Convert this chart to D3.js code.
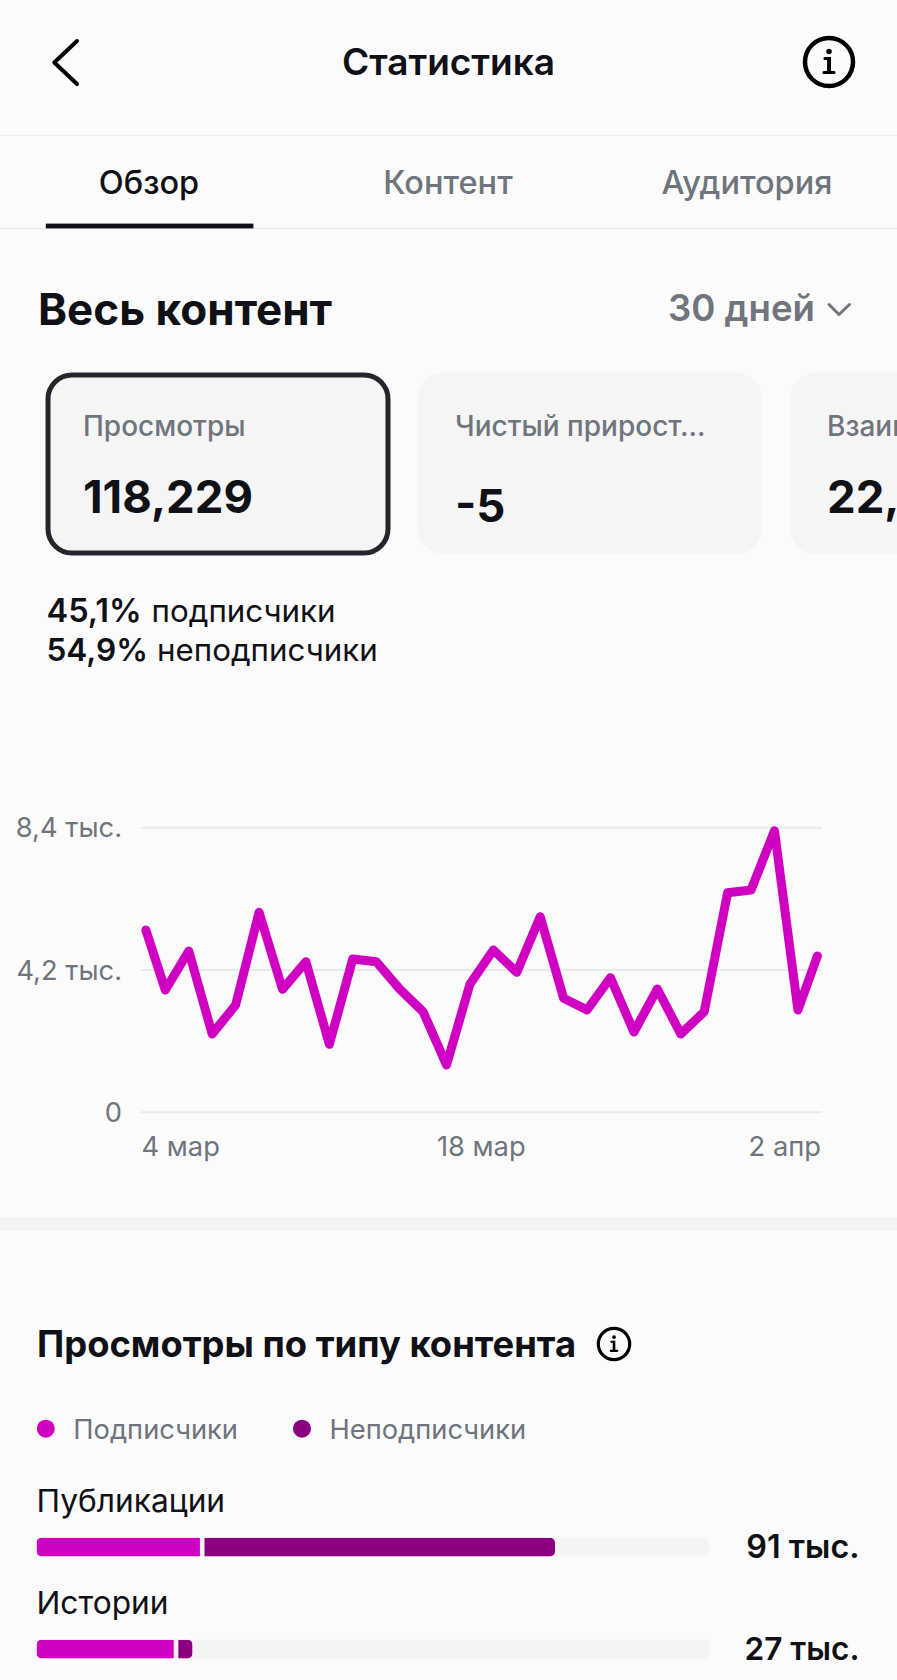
<!DOCTYPE html>
<html lang="ru"><head><meta charset="utf-8">
<script src="https://cdn.jsdelivr.net/npm/d3@7/dist/d3.min.js"></script>
<style>
html,body{margin:0;padding:0;background:#fbfbfb;overflow:hidden}
svg{display:block;font-family:Inter,"Noto Sans",sans-serif}
</style></head><body><div id="c"></div>
<script>
// ---- data ----
const viewsByDay = [5380,3610,4760,2311,3167,5902,3630,4446,2007,4525,4446,3639,2970,1397,3777,4790,4131,5774,3364,3020,3974,2370,3639,2311,2970,6482,6561,8311,3020,4613];
const yTicks = [0,4200,8400];
const yTickLabels = ["0","4,2 тыс.","8,4 тыс."];
const xTickLabels = ["4 мар","18 мар","2 апр"];
const contentTypes = ["Публикации","Истории"];
const followers = [29.1,24.5];
const nonFollowers = [62.0,2.9];
const totalLabels = ["91 тыс.","27 тыс."];
const totalViews = 118.229;
const legendLabels = ["Подписчики","Неподписчики"];
const tabs = ["Обзор","Контент","Аудитория"];

// ---- palette ----
const PINK="#d000c2", PURPLE="#8a0080", INK="#0f1117", GREY="#6f747d", GRID="#e9eaee", CARD="#f5f5f6", TRACK="#f4f4f5";

const W=897,H=1680;
const svg=d3.select("#c").append("svg").attr("width",W).attr("height",H).attr("viewBox",`0 0 ${W} ${H}`);
svg.append("rect").attr("width",W).attr("height",H).attr("fill","#fbfbfb");

function text(x,y,s,size,weight,fill,anchor,parent){
  return (parent||svg).append("text").attr("x",x).attr("y",y).attr("font-size",size).attr("font-weight",weight)
    .attr("fill",fill).attr("text-anchor",anchor||"start").text(s);
}
function infoIcon(cx,cy,r,sw){
  const k=r/26, g=svg.append("g").attr("transform",`translate(${cx},${cy}) scale(${k})`);
  g.append("circle").attr("r",24).attr("fill","none").attr("stroke","#000").attr("stroke-width",sw/k);
  g.append("circle").attr("cy",-10.5).attr("r",2.8).attr("fill","#000");
  g.append("path").attr("d","M-4,-3.5H0M-5,10.5H5").attr("fill","none").attr("stroke","#000").attr("stroke-width",3.2).attr("stroke-linecap","round");
  g.append("path").attr("d","M0,-5V11").attr("stroke","#000").attr("stroke-width",4);
}

// ---- header ----
svg.append("path").attr("d","M77,41L54.3,62.5L77,84").attr("fill","none").attr("stroke","#000").attr("stroke-width",4).attr("stroke-linecap","round").attr("stroke-linejoin","round");
text(448.5,75,"Статистика",37,600,INK,"middle");
infoIcon(829,62,26,4.5);
svg.append("rect").attr("x",0).attr("y",135).attr("width",W).attr("height",1).attr("fill","#eeeef0");

// ---- tabs ----
const tabX=[149,448,747];
tabs.forEach((t,i)=>text(tabX[i],194,t,32.5,500,i===0?INK:GREY,"middle"));
svg.append("rect").attr("x",0).attr("y",228).attr("width",W).attr("height",1).attr("fill","#e6e7ea");
svg.append("rect").attr("x",45.8).attr("y",223.6).attr("width",207.6).attr("height",4.8).attr("fill",INK);

// ---- section head ----
text(38,325,"Весь контент",44,700,INK);
text(668,321,"30 дней",36.6,600,GREY);
svg.append("path").attr("d","M829,304.5L839,314.5L849.5,304.5").attr("fill","none").attr("stroke",GREY).attr("stroke-width",3).attr("stroke-linecap","round").attr("stroke-linejoin","round");

// ---- cards ----
svg.append("rect").attr("x",48).attr("y",375).attr("width",340).attr("height",178).attr("rx",24).attr("fill",CARD).attr("stroke","#24262c").attr("stroke-width",5);
svg.append("rect").attr("x",418).attr("y",372.5).attr("width",344).attr("height",182).attr("rx",26).attr("fill",CARD);
svg.append("rect").attr("x",790).attr("y",372.5).attr("width",344).attr("height",182).attr("rx",26).attr("fill",CARD);
text(83,436,"Просмотры",28,500,GREY);
text(83,513,"118,229",45.5,700,INK);
text(455,436,"Чистый прирост...",28,500,GREY);
text(455,522,"-5",45.5,700,INK);
text(827,436,"Взаимодействия",28,500,GREY);
text(827,513,"22,9",45.5,700,INK);

text(46.5,621.5,"45,1%",32.5,600,INK);
text(151.6,621.5,"подписчики",31.3,400,INK);
text(46.5,661,"54,9%",31.6,600,INK);
text(157,661,"неподписчики",31.3,400,INK);

// ---- line chart ----
const y=d3.scaleLinear().domain([0,8400]).range([1112.3,827.7]);
const gridLeft=141, gridRight=821.5;
const step=23.43, origin=141.9;
const x=d3.scaleLinear().domain([0.17,28.83]).range([origin+0.17*step,origin+28.83*step]).clamp(true);
const yAxis=d3.axisLeft(y).tickValues(yTicks).tickSize(0).tickPadding(0).tickFormat((d,i)=>yTickLabels[i]);
const gy=svg.append("g").attr("transform","translate(122,0)").call(yAxis);
gy.select(".domain").remove();
gy.selectAll("text").attr("font-size",27.3).attr("font-weight",400).attr("font-family","Inter").attr("fill",GREY).attr("dy","0.34em");
svg.append("g").selectAll("line").data(yTicks).join("line")
  .attr("x1",gridLeft).attr("x2",gridRight).attr("y1",d=>y(d)).attr("y2",d=>y(d)).attr("stroke",GRID).attr("stroke-width",2);
svg.append("path").datum(viewsByDay)
  .attr("d",d3.line().x((d,i)=>x(i)).y(d=>y(d)))
  .attr("fill","none").attr("stroke",PINK).attr("stroke-width",9).attr("stroke-linejoin","round").attr("stroke-linecap","round");
const xt=d3.scalePoint().domain(xTickLabels).range([gridLeft+0.5,gridRight-0.5]);
const anchors=["start","middle","end"];
xTickLabels.forEach((l,i)=>text(xt(l),1155.5,l,27.3,400,GREY,anchors[i]));

// ---- separator ----
svg.append("rect").attr("x",0).attr("y",1217).attr("width",W).attr("height",13.7).attr("fill","#f4f4f4");

// ---- stacked bars ----
text(37,1356.5,"Просмотры по типу контента",36.4,700,INK);
infoIcon(614,1344,17,3.2);
const color=d3.scaleOrdinal().domain(legendLabels).range([PINK,PURPLE]);
const legX=[45.8,302];
legendLabels.forEach((l,i)=>{
  svg.append("circle").attr("cx",legX[i]).attr("cy",1428.7).attr("r",9).attr("fill",color(l));
  text(legX[i]+27.5,1438.5,l,27.3,400,GREY);
});
const bx=d3.scaleLinear().domain([0,totalViews]).range([36.6,709.4]);
const rowLabelY=[1511.5,1613.8], rowY=[1537.8,1639.8], rowValY=[1557.5,1659.5], barH=18.7, gap=4.6;
const defs=svg.append("defs");
contentTypes.forEach((c,i)=>{
  text(36.5,rowLabelY[i],c,31.7,400,INK);
  svg.append("rect").attr("x",bx(0)).attr("y",rowY[i]).attr("width",bx(totalViews)-bx(0)).attr("height",barH).attr("rx",5).attr("fill",TRACK);
  const tot=followers[i]+nonFollowers[i];
  defs.append("clipPath").attr("id","clip"+i).append("rect").attr("x",bx(0)).attr("y",rowY[i]).attr("width",bx(tot)-bx(0)).attr("height",barH).attr("rx",5);
  const g=svg.append("g").attr("clip-path",`url(#clip${i})`);
  g.append("rect").attr("x",bx(0)).attr("y",rowY[i]).attr("width",bx(followers[i])-bx(0)-gap/2).attr("height",barH).attr("fill",PINK);
  g.append("rect").attr("x",bx(followers[i])+gap/2).attr("y",rowY[i]).attr("width",bx(tot)-bx(followers[i])-gap/2).attr("height",barH).attr("fill",PURPLE);
  text(859.5,rowValY[i],totalLabels[i],i===0?32.3:31.6,600,INK,"end");
});
</script></body></html>
